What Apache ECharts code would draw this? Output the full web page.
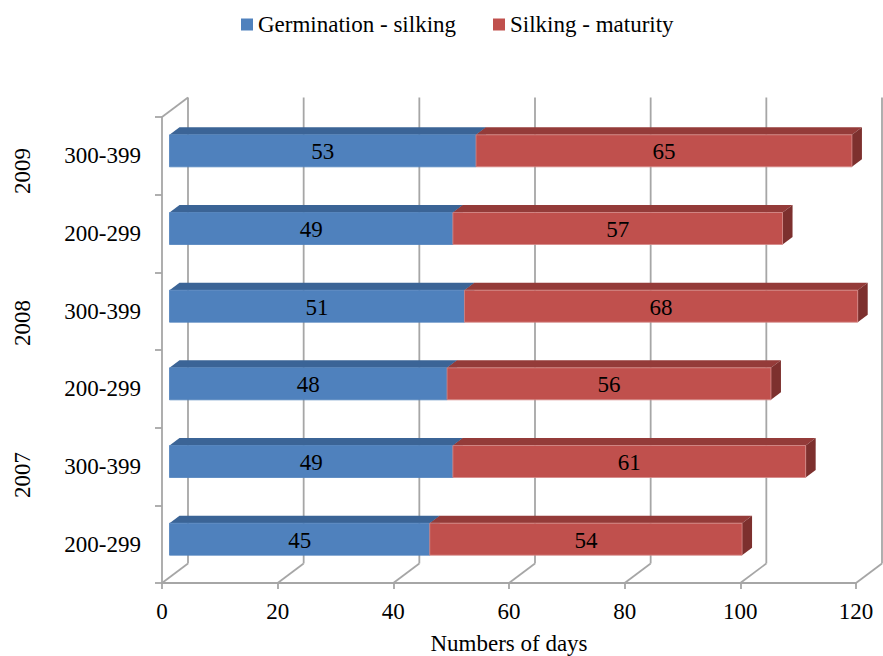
<!DOCTYPE html>
<html>
<head>
<meta charset="utf-8">
<script src="https://cdn.jsdelivr.net/npm/echarts@6/dist/echarts.min.js"></script>
<style>
  html, body { margin: 0; padding: 0; background: #ffffff; }
  #chart { width: 883px; height: 656px; }
</style>
</head>
<body>
<div id="chart"></div>
<script>
// Growth-stage duration by sowing-density group and year
const years = ['2007', '2008', '2009'];
const groups = ['200-299', '300-399'];
const germinationSilking = [45, 49, 48, 51, 49, 53];
const silkingMaturity = [54, 61, 56, 68, 57, 65];
const xTicks = [0, 20, 40, 60, 80, 100, 120];
const seriesNames = ['Germination - silking', 'Silking - maturity'];

// one category per (year, group) pair, bottom to top
const categories = [];
years.forEach(y => groups.forEach(g => categories.push(y + '|' + g)));

const FONT = '"Liberation Serif", "Times New Roman", serif';
const GRID_COLOR = '#a6a6a6';

// pseudo-3D geometry (pixels)
const WALL_DX = 26, WALL_DY = -19.5;   // depth of the plot box
const BAR_FX = 7.5, BAR_FY = -5;       // front face of the bars, pushed back
const BAR_DX = 10, BAR_DY = -7.5;      // bar thickness in depth

const palette = [
  { front: '#4F81BD', top: '#3B6496', side: '#345883', edge: '#4F81BD' },
  { front: '#C0504D', top: '#943B39', side: '#7D302E', edge: '#D48886' }
];

function wallRender(params, api) {
  const cs = params.coordSys;
  const left = cs.x, top = cs.y, bottom = cs.y + cs.height;
  const style = { stroke: GRID_COLOR, lineWidth: 1.8, fill: null };
  const children = [];
  xTicks.forEach(v => {
    const x = api.coord([v, 0])[0];
    children.push({ type: 'line', shape: { x1: x + WALL_DX, y1: top + WALL_DY, x2: x + WALL_DX, y2: bottom + WALL_DY }, style });
    children.push({ type: 'line', shape: { x1: x, y1: bottom, x2: x + WALL_DX, y2: bottom + WALL_DY }, style });
  });
  children.push({ type: 'line', shape: { x1: left, y1: top, x2: left + WALL_DX, y2: top + WALL_DY }, style });
  return { type: 'group', children };
}

function barRender(colors) {
  return function (params, api) {
    const val = api.value(0);
    const idx = api.value(1);
    const base = api.value(2);
    const p0 = api.coord([base, idx]);
    const p1 = api.coord([base + val, idx]);
    const h = api.size([0, 1])[1] * 0.412;
    const x0 = p0[0] + BAR_FX, x1 = p1[0] + BAR_FX;
    const yc = p0[1] + BAR_FY;
    const yt = yc - h / 2, yb = yc + h / 2;
    return {
      type: 'group',
      children: [
        { type: 'polygon', shape: { points: [[x0, yt], [x1, yt], [x1 + BAR_DX, yt + BAR_DY], [x0 + BAR_DX, yt + BAR_DY]] },
          style: { fill: colors.top } },
        { type: 'polygon', shape: { points: [[x1, yt], [x1 + BAR_DX, yt + BAR_DY], [x1 + BAR_DX, yb + BAR_DY], [x1, yb]] },
          style: { fill: colors.side } },
        { type: 'rect', shape: { x: x0, y: yt, width: x1 - x0, height: yb - yt },
          style: { fill: colors.front, stroke: colors.edge, lineWidth: 0.8 } },
        { type: 'text', x: (x0 + x1) / 2, y: yc + 1,
          style: { text: String(val), fill: '#000000', font: '23px ' + FONT, align: 'center', verticalAlign: 'middle' } }
      ]
    };
  };
}

const firstData = germinationSilking.map((v, i) => [v, i, 0]);
const secondData = silkingMaturity.map((v, i) => [v, i, germinationSilking[i]]);

const chart = echarts.init(document.getElementById('chart'), null, { renderer: 'svg' });

chart.setOption({
  animation: false,
  backgroundColor: '#ffffff',
  textStyle: { fontFamily: FONT, color: '#000000' },
  legend: {
    data: seriesNames,
    left: 236,
    top: 8,
    icon: 'rect',
    itemWidth: 12,
    itemHeight: 12,
    itemGap: 37,
    textStyle: { fontFamily: FONT, fontSize: 23, color: '#000000' }
  },
  grid: { left: 162, right: 27, top: 117, bottom: 73, containLabel: false, outerBoundsMode: 'none' },
  xAxis: {
    type: 'value',
    min: 0,
    max: 120,
    interval: 20,
    name: 'Numbers of days',
    nameLocation: 'middle',
    nameGap: 49,
    nameTextStyle: { fontFamily: FONT, fontSize: 23, color: '#000000' },
    axisLine: { show: true, lineStyle: { color: GRID_COLOR, width: 1.8 } },
    axisTick: { show: true, length: 6, lineStyle: { color: GRID_COLOR, width: 1.8 } },
    axisLabel: { fontFamily: FONT, fontSize: 23, color: '#000000', margin: 17 },
    splitLine: { show: false }
  },
  yAxis: {
    type: 'category',
    data: categories,
    axisLine: { show: true, lineStyle: { color: GRID_COLOR, width: 1.8 } },
    axisTick: { show: true, length: 7, lineStyle: { color: GRID_COLOR, width: 1.8 } },
    axisLabel: {
      fontFamily: FONT, fontSize: 23, color: '#000000', margin: 21,
      formatter: v => v.split('|')[1]
    },
    splitLine: { show: false }
  },
  graphic: [
    { type: 'text', x: 22, y: 171, rotation: Math.PI / 2,
      style: { text: years[2], font: '23px ' + FONT, fill: '#000000', align: 'center', verticalAlign: 'middle' } },
    { type: 'text', x: 22, y: 323, rotation: Math.PI / 2,
      style: { text: years[1], font: '23px ' + FONT, fill: '#000000', align: 'center', verticalAlign: 'middle' } },
    { type: 'text', x: 22, y: 475, rotation: Math.PI / 2,
      style: { text: years[0], font: '23px ' + FONT, fill: '#000000', align: 'center', verticalAlign: 'middle' } }
  ],
  series: [
    {
      name: 'walls',
      type: 'custom',
      clip: false,
      silent: true,
      z: 1,
      renderItem: wallRender,
      data: [[0, 0]]
    },
    {
      name: seriesNames[0],
      type: 'custom',
      clip: false,
      z: 2,
      itemStyle: { color: palette[0].front },
      renderItem: barRender(palette[0]),
      encode: { x: 0, y: 1 },
      data: firstData
    },
    {
      name: seriesNames[1],
      type: 'custom',
      clip: false,
      z: 3,
      itemStyle: { color: palette[1].front },
      renderItem: barRender(palette[1]),
      encode: { x: 0, y: 1 },
      data: secondData
    }
  ]
});
</script>
</body>
</html>
